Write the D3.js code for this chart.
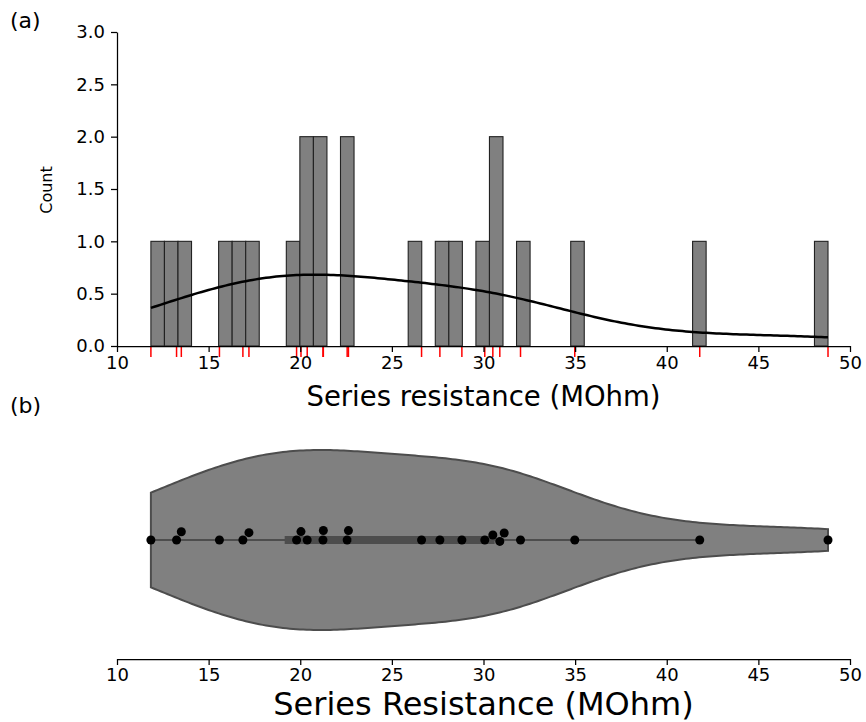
<!DOCTYPE html>
<html>
<head>
<meta charset="utf-8">
<script src="https://cdn.jsdelivr.net/npm/d3@7"></script>
<style>
  body { margin: 0; background: #fff; }
  svg { display: block; font-family: "DejaVu Sans", sans-serif; }
</style>
</head>
<body>
<svg id="chart" width="866" height="722"></svg>
<script>
// series resistance (MOhm) per cell, panel (a)
const histValues = [11.85, 13.25, 13.51, 15.59, 16.87, 17.20, 19.80, 20.04, 20.38,
  21.24, 21.26, 22.56, 22.63, 26.62, 27.62, 28.82, 30.07, 30.51, 30.89,
  32.02, 34.98, 41.80, 48.80];
// panel (b) has one more cell
const violinValues = [11.85, 13.25, 13.51, 15.59, 16.87, 17.20, 19.80, 20.04, 20.38,
  21.24, 21.26, 22.56, 22.63, 26.62, 27.62, 28.82, 30.07, 30.51, 30.89, 31.13,
  32.02, 34.98, 41.80, 48.80];
const nBins = 50;
const xTicks = [10, 15, 20, 25, 30, 35, 40, 45, 50];
const countTicks = [0, 0.5, 1, 1.5, 2, 2.5, 3];

const svg = d3.select('#chart');

let x = d3.scaleLinear().domain([10, 50]).range([117, 850]);
let y = d3.scaleLinear().domain([0, 3]).range([346, 32]);

// gaussian kde, scott bandwidth like scipy
function kde(data) {
  let n = data.length;
  let bw = d3.deviation(data) * Math.pow(n, -0.2);
  return function(v) {
    let s = 0;
    for (let d of data) {
      let z = (v - d) / bw;
      s += Math.exp(-0.5 * z * z);
    }
    return s / (n * bw * Math.sqrt(2 * Math.PI));
  };
}

// ---------- (a) histogram ----------
let lo = d3.min(histValues), hi = d3.max(histValues);
let binW = (hi - lo) / nBins;
let bins = d3.bin()
  .domain([lo, hi])
  .thresholds(d3.range(1, nBins).map(k => lo + k * binW))(histValues);

let gTop = svg.append('g');

gTop.selectAll('rect.bar')
  .data(bins.filter(b => b.length > 0))
  .join('rect')
  .attr('class', 'bar')
  .attr('x', d => x(d.x0))
  .attr('width', d => x(d.x1) - x(d.x0))
  .attr('y', d => y(d.length))
  .attr('height', d => y(0) - y(d.length))
  .attr('fill', '#808080')
  .attr('stroke', '#222')
  .attr('stroke-width', 1.1);

let densA = kde(histValues);
let kdeA = d3.range(0, 201).map(i => {
  let v = lo + (hi - lo) * i / 200;
  return [v, densA(v) * histValues.length * binW];
});
gTop.append('path')
  .datum(kdeA)
  .attr('fill', 'none')
  .attr('stroke', '#000')
  .attr('stroke-width', 2.5)
  .attr('d', d3.line().x(d => x(d[0])).y(d => y(d[1])));

// rug
gTop.selectAll('line.rug')
  .data(histValues)
  .join('line')
  .attr('class', 'rug')
  .attr('x1', d => x(d)).attr('x2', d => x(d))
  .attr('y1', y(0)).attr('y2', y(0) + 11)
  .attr('stroke', '#ff0000')
  .attr('stroke-width', 1.5);

let xAxisA = gTop.append('g')
  .attr('transform', `translate(0,${y(0)})`)
  .call(d3.axisBottom(x).tickValues(xTicks).tickSize(6).tickSizeOuter(0).tickPadding(4));
let yAxisA = gTop.append('g')
  .attr('transform', `translate(${x(10)},0)`)
  .call(d3.axisLeft(y).tickValues(countTicks).tickFormat(d3.format('.1f'))
    .tickSize(6).tickSizeOuter(0).tickPadding(6));

[xAxisA, yAxisA].forEach(g => {
  g.attr('font-family', 'DejaVu Sans').attr('font-size', 18);
  g.selectAll('path, line').attr('stroke', '#000').attr('stroke-width', 1.25);
  g.selectAll('text').attr('fill', '#000');
});

gTop.append('text')
  .attr('transform', 'translate(52,190) rotate(-90)')
  .attr('text-anchor', 'middle')
  .attr('font-size', 16)
  .text('Count');

gTop.append('text')
  .attr('x', (x(10) + x(50)) / 2).attr('y', 406)
  .attr('text-anchor', 'middle')
  .attr('font-size', 27.5)
  .text('Series resistance (MOhm)');

svg.append('text').attr('x', 10).attr('y', 28).attr('font-size', 22).text('(a)');
svg.append('text').attr('x', 10).attr('y', 413).attr('font-size', 22).text('(b)');

// ---------- (b) violin ----------
let gBot = svg.append('g');
let yc = d3.scaleLinear().domain([-0.5, 0.5]).range([652.5, 427.5]);
let halfW = 0.4;

let vlo = d3.min(violinValues), vhi = d3.max(violinValues);
let densB = kde(violinValues);
let grid = d3.range(0, 201).map(i => {
  let v = vlo + (vhi - vlo) * i / 200;
  return [v, densB(v)];
});
let maxD = d3.max(grid, d => d[1]);
let w = d3.scaleLinear().domain([0, maxD]).range([0, halfW]);

gBot.append('path')
  .datum(grid)
  .attr('fill', '#808080')
  .attr('stroke', '#4d4d4d')
  .attr('stroke-width', 2)
  .attr('d', d3.area()
    .x(d => x(d[0]))
    .y0(d => yc(-w(d[1])))
    .y1(d => yc(w(d[1]))));

// inner box
let sorted = violinValues.slice().sort(d3.ascending);
let q1 = d3.quantile(sorted, 0.25), q3 = d3.quantile(sorted, 0.75);
let med = d3.quantile(sorted, 0.5);
let iqr = q3 - q1;
let whiskLo = d3.min(sorted.filter(v => v >= q1 - 1.5 * iqr));
let whiskHi = d3.max(sorted.filter(v => v <= q3 + 1.5 * iqr));

gBot.append('line')
  .attr('x1', x(whiskLo)).attr('x2', x(whiskHi))
  .attr('y1', yc(0)).attr('y2', yc(0))
  .attr('stroke', '#4d4d4d').attr('stroke-width', 2);
gBot.append('line')
  .attr('x1', x(q1)).attr('x2', x(q3))
  .attr('y1', yc(0)).attr('y2', yc(0))
  .attr('stroke', '#4d4d4d').attr('stroke-width', 8);
gBot.append('circle')
  .attr('cx', x(med)).attr('cy', yc(0)).attr('r', 3.5)
  .attr('fill', '#fff');

// swarm layout of the points (pixel space)
let dia = 9.5;
let placed = [];
sorted.forEach(v => {
  let px = x(v);
  let near = placed.filter(p => Math.abs(p.x - px) < dia);
  let cands = [0];
  near.forEach(p => {
    let dy = Math.sqrt(dia * dia - (p.x - px) * (p.x - px));
    cands.push(p.dy - dy, p.dy + dy);
  });
  cands.sort((a, b) => Math.abs(a) - Math.abs(b) || a - b);
  let ok = cands.find(c => near.every(p =>
    Math.hypot(p.x - px, p.dy - c) >= dia - 1e-6));
  placed.push({ x: px, dy: ok });
});

gBot.selectAll('circle.pt')
  .data(placed)
  .join('circle')
  .attr('class', 'pt')
  .attr('cx', d => d.x)
  .attr('cy', d => yc(0) + d.dy)
  .attr('r', 4.5)
  .attr('fill', '#000');

let xAxisB = gBot.append('g')
  .attr('transform', 'translate(0,659)')
  .call(d3.axisBottom(x).tickValues(xTicks).tickSize(6).tickSizeOuter(0).tickPadding(3));
xAxisB.attr('font-family', 'DejaVu Sans').attr('font-size', 18);
xAxisB.selectAll('path, line').attr('stroke', '#000').attr('stroke-width', 1.25);
xAxisB.selectAll('text').attr('fill', '#000');

gBot.append('text')
  .attr('x', (x(10) + x(50)) / 2).attr('y', 715)
  .attr('text-anchor', 'middle')
  .attr('font-size', 32)
  .text('Series Resistance (MOhm)');
</script>
</body>
</html>
